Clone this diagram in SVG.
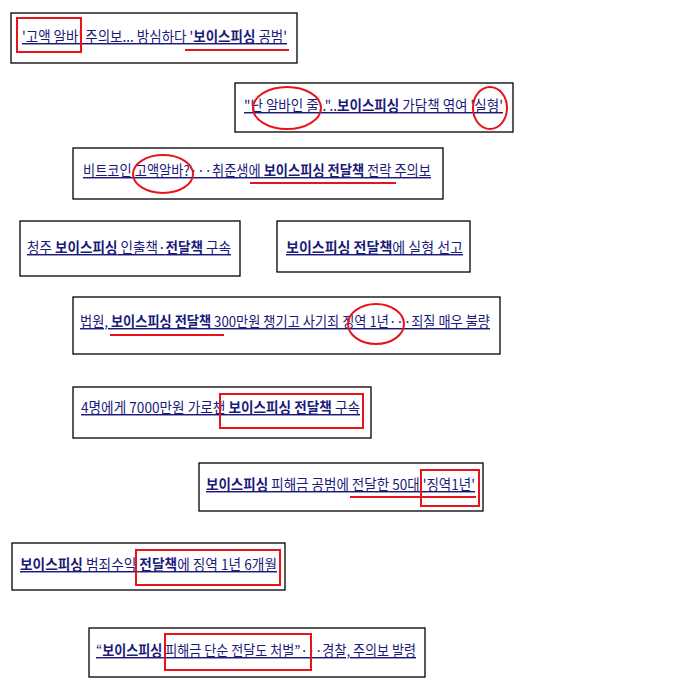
<svg xmlns="http://www.w3.org/2000/svg" width="700" height="700" viewBox="0 0 700 700">
<style>
.box{fill:#fff;stroke:#000;stroke-width:1.3}
.t{font-family:"Noto Sans CJK KR","Liberation Sans",sans-serif;font-size:14.5px;fill:#1a1a7a;text-decoration:underline}
.b{font-weight:bold}
.r{fill:none;stroke:#e8141c;stroke-width:2}
</style>
<rect width="700" height="700" fill="#fff"/>
<g id="n1"><rect class="box" x="11" y="13" width="286" height="50"/>
<text class="t" x="22" y="42" textLength="265" lengthAdjust="spacingAndGlyphs">'고액 알바' 주의보... 방심하다 '<tspan class="b">보이스피싱</tspan> 공범'</text></g>
<g id="n2"><rect class="box" x="235" y="83" width="278" height="49"/>
<text class="t" x="244" y="111" textLength="259" lengthAdjust="spacingAndGlyphs">"난 알바인 줄.."..<tspan class="b">보이스피싱</tspan> 가담책 엮여 '실형'</text></g>
<g id="n3"><rect class="box" x="73" y="148" width="370" height="51"/>
<text class="t" x="83" y="176" textLength="348" lengthAdjust="spacingAndGlyphs">비트코인 고액알바?···취준생에 <tspan class="b">보이스피싱 전달책</tspan> 전락 주의보</text></g>
<g id="n4"><rect class="box" x="20" y="221" width="220" height="55"/>
<text class="t" x="27" y="253" textLength="204" lengthAdjust="spacingAndGlyphs">청주 <tspan class="b">보이스피싱</tspan> 인출책·<tspan class="b">전달책</tspan> 구속</text></g>
<g id="n5"><rect class="box" x="277" y="221" width="193" height="51"/>
<text class="t" x="286" y="253" textLength="177" lengthAdjust="spacingAndGlyphs"><tspan class="b">보이스피싱 전달책</tspan>에 실형 선고</text></g>
<g id="n6"><rect class="box" x="73" y="297" width="427" height="57"/>
<text class="t" x="80" y="327" textLength="410" lengthAdjust="spacingAndGlyphs">법원, <tspan class="b">보이스피싱 전달책</tspan> 300만원 챙기고 사기죄 징역 1년···죄질 매우 불량</text></g>
<g id="n7"><rect class="box" x="73" y="387" width="298" height="51"/>
<text class="t" x="81" y="413" textLength="279" lengthAdjust="spacingAndGlyphs">4명에게 7000만원 가로챈 <tspan class="b">보이스피싱 전달책</tspan> 구속</text></g>
<g id="n8"><rect class="box" x="199" y="463" width="284" height="48"/>
<text class="t" x="206" y="490" textLength="269" lengthAdjust="spacingAndGlyphs"><tspan class="b">보이스피싱</tspan> 피해금 공범에 전달한 50대 '징역1년'</text></g>
<g id="n9"><rect class="box" x="12" y="543" width="273" height="47"/>
<text class="t" x="20" y="570" textLength="257" lengthAdjust="spacingAndGlyphs"><tspan class="b">보이스피싱</tspan> 범죄수익 <tspan class="b">전달책</tspan>에 징역 1년 6개월</text></g>
<g id="n10"><rect class="box" x="89" y="628" width="336" height="49"/>
<text class="t" x="96" y="656" textLength="320" lengthAdjust="spacingAndGlyphs">“<tspan class="b">보이스피싱</tspan> 피해금 단순 전달도 처벌”···경찰, 주의보 발령</text></g>
<g id="connectors">
<rect class="r" x="17" y="18" width="64" height="34"/>
<line class="r" x1="185" y1="50" x2="289" y2="50"/>
<ellipse class="r" cx="287" cy="108" rx="34" ry="21"/>
<ellipse class="r" cx="490" cy="108" rx="17" ry="21"/>
<ellipse class="r" cx="163" cy="174" rx="30" ry="19"/>
<line class="r" x1="250" y1="183" x2="396" y2="183"/>
<line class="r" x1="110" y1="335" x2="224" y2="335"/>
<ellipse class="r" cx="376" cy="324" rx="28" ry="20"/>
<rect class="r" x="220" y="394" width="143" height="34"/>
<line class="r" x1="350" y1="497" x2="476" y2="497"/>
<rect class="r" x="421" y="470" width="58" height="36"/>
<rect class="r" x="136" y="550" width="144" height="35"/>
<rect class="r" x="165" y="634" width="146" height="36"/>
</g>
</svg>
